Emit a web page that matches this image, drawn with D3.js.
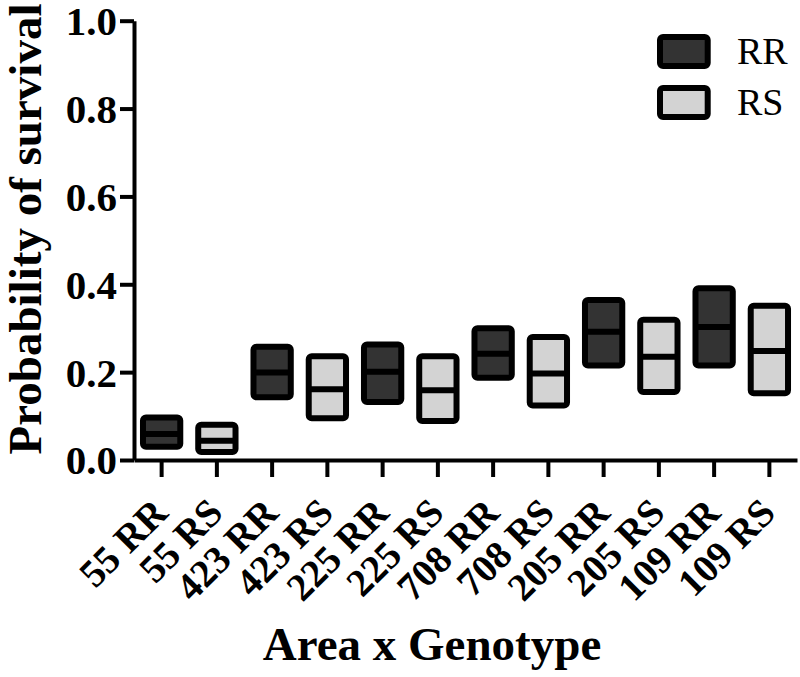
<!DOCTYPE html>
<html>
<head>
<meta charset="utf-8">
<script src="https://cdn.jsdelivr.net/npm/d3@7"></script>
<style>
  body { margin: 0; background: #fff; }
  svg { display: block; font-family: "Liberation Serif", "Times New Roman", serif; }
</style>
</head>
<body>
<svg width="800" height="677"></svg>
<script>
// data
const categories = ["55 RR", "55 RS", "423 RR", "423 RS", "225 RR", "225 RS",
                    "708 RR", "708 RS", "205 RR", "205 RS", "109 RR", "109 RS"];
const genotypes = ["RR", "RS", "RR", "RS", "RR", "RS", "RR", "RS", "RR", "RS", "RR", "RS"];
const lower  = [0.030, 0.018, 0.143, 0.095, 0.132, 0.089, 0.187, 0.124, 0.215, 0.155, 0.215, 0.152];
const median = [0.059, 0.044, 0.199, 0.161, 0.201, 0.159, 0.242, 0.197, 0.292, 0.235, 0.303, 0.248];
const upper  = [0.097, 0.080, 0.258, 0.236, 0.263, 0.236, 0.300, 0.280, 0.364, 0.319, 0.391, 0.351];
const yTicks = [0, 0.2, 0.4, 0.6, 0.8, 1.0];
const legendKeys = ["RR", "RS"];

const colour = d3.scaleOrdinal().domain(legendKeys).range(["#333333", "#d3d3d3"]);
const serif = '"Liberation Serif", "Times New Roman", serif';

const svg = d3.select('svg');

const x = d3.scaleBand()
  .domain(categories)
  .range([134, 797]);

const y = d3.scaleLinear()
  .domain([0, 1])
  .range([460, 20.7]);

// y axis
const yAxisGroup = svg.append('g')
  .attr('transform', `translate(${x.range()[0]},0)`)
  .call(d3.axisLeft(y)
    .tickValues(yTicks)
    .tickFormat(d3.format('.1f'))
    .tickSize(14)
    .tickSizeOuter(0)
    .tickPadding(3))
  .attr('font-family', serif)
  .attr('font-size', 41)
  .attr('font-weight', 'bold');

yAxisGroup.selectAll('text')
  .attr('dy', '0.34em')
  .attr('fill', '#000');

// x axis
const xAxisGroup = svg.append('g')
  .attr('transform', `translate(0,${y(0)})`)
  .call(d3.axisBottom(x).tickSize(17).tickSizeOuter(0))
  .attr('font-family', serif)
  .attr('font-size', 39)
  .attr('font-weight', 'bold');

xAxisGroup.selectAll('text').remove();
xAxisGroup.selectAll('.tick')
  .append('text')
  .attr('transform', 'translate(8,55) rotate(-45)')
  .attr('text-anchor', 'end')
  .attr('fill', '#000')
  .text(d => d);

svg.selectAll('.domain, .tick line')
  .attr('stroke', '#000')
  .attr('stroke-width', 4);

// boxes
const boxW = x.bandwidth() * 0.675;
const boxes = svg.append('g').selectAll('g')
  .data(categories)
  .enter()
  .append('g');

boxes.append('rect')
  .attr('x', d => x(d) + x.bandwidth() / 2 - boxW / 2)
  .attr('y', (d, i) => y(upper[i]))
  .attr('width', boxW)
  .attr('height', (d, i) => y(lower[i]) - y(upper[i]))
  .attr('rx', 3)
  .attr('fill', (d, i) => colour(genotypes[i]))
  .attr('stroke', '#000')
  .attr('stroke-width', 6);

boxes.append('line')
  .attr('x1', d => x(d) + x.bandwidth() / 2 - boxW / 2)
  .attr('x2', d => x(d) + x.bandwidth() / 2 + boxW / 2)
  .attr('y1', (d, i) => y(median[i]))
  .attr('y2', (d, i) => y(median[i]))
  .attr('stroke', '#000')
  .attr('stroke-width', 6);

// legend
const legend = svg.append('g')
  .selectAll('g')
  .data(legendKeys)
  .enter()
  .append('g')
  .attr('transform', (d, i) => `translate(660,${37 + i * 51})`);

legend.append('rect')
  .attr('width', 47.7)
  .attr('height', 29)
  .attr('rx', 3)
  .attr('fill', d => colour(d))
  .attr('stroke', '#000')
  .attr('stroke-width', 6);

legend.append('text')
  .attr('x', 77)
  .attr('y', 26.5)
  .attr('font-size', 38)
  .attr('fill', '#000')
  .text(d => d);

// axis titles
svg.append('text')
  .attr('transform', 'translate(41,229) rotate(-90)')
  .attr('text-anchor', 'middle')
  .attr('font-size', 47)
  .attr('font-weight', 'bold')
  .text('Probability of survival');

svg.append('text')
  .attr('x', 432)
  .attr('y', 660)
  .attr('text-anchor', 'middle')
  .attr('font-size', 47)
  .attr('font-weight', 'bold')
  .text('Area x Genotype');
</script>
</body>
</html>
